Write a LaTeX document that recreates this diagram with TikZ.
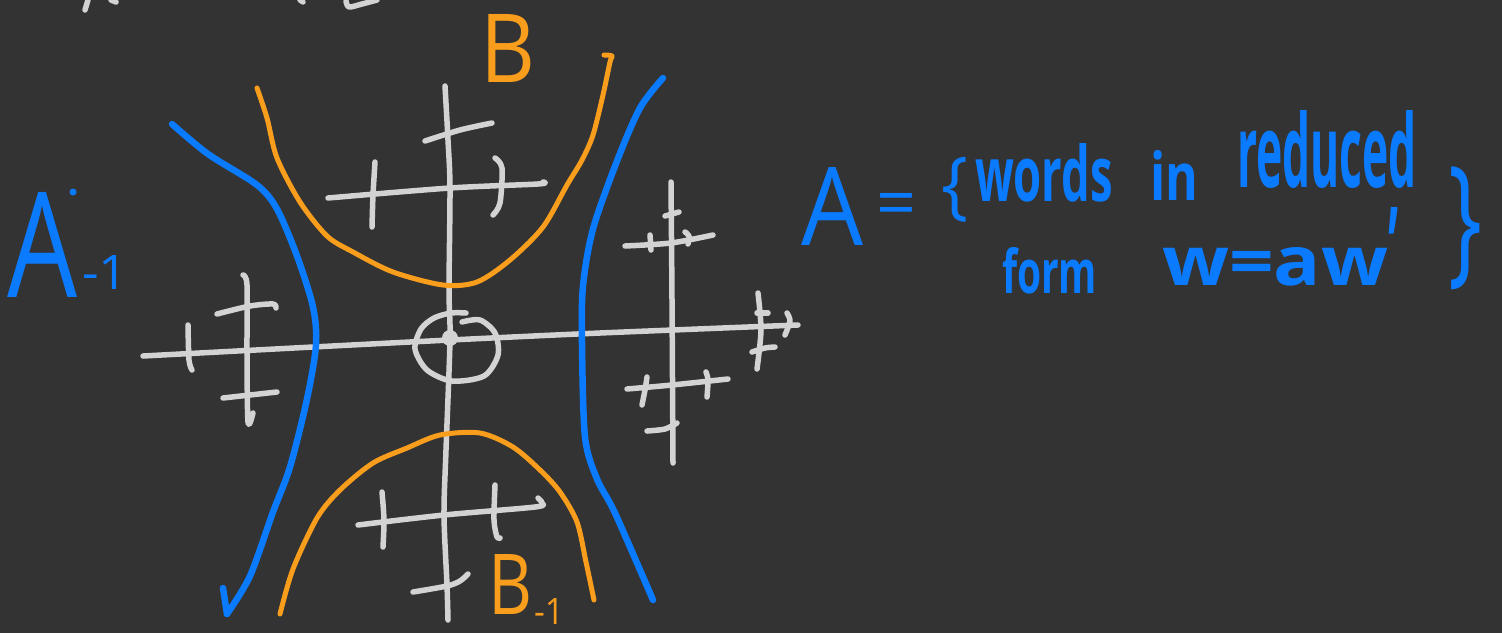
\documentclass[tikz,border=0pt]{standalone}
\usepackage{graphicx}
\usepackage{fontspec}
\setmainfont{Open Sans}
\definecolor{bg}{HTML}{333333}
\definecolor{chalk}{HTML}{D3D3D3}
\definecolor{pblue}{HTML}{0A7AFF}
\definecolor{porange}{HTML}{F99D1C}
\begin{document}
\begin{tikzpicture}[x=1pt,y=-1pt,line cap=round,line join=round,
  chalkline/.style={draw=chalk,line width=5.5pt},
  blueline/.style={draw=pblue,line width=6.5pt},
  orangeline/.style={draw=porange,line width=5pt},
  bluetext/.style={text=pblue,inner sep=0pt,outer sep=0pt},
  bluewords/.style={bluetext,font=\bfseries},
  orangetext/.style={text=porange,inner sep=0pt,outer sep=0pt}]
\fill[bg] (0,0) rectangle (1502,633);
\useasboundingbox (0,0) rectangle (1502,633);

% cut-off fragments at the top edge
\draw[chalkline] (88,0) -- (85,10);
\draw[chalkline] (111,0) -- (116,2);
\draw[chalkline] (300,0) -- (303,2);
\draw[chalkline] plot[smooth] coordinates {(346,1) (349,7) (362,4) (377,0)};

% main axes
\draw[chalkline] plot[smooth] coordinates {(143,356) (313,347) (450,340) (600,333) (798,325)};
\draw[chalkline] plot[smooth] coordinates {(445,86) (448,140) (450,188) (449,290) (450,340) (446,450) (444,515) (447,585) (448,620)};

% top cross
\draw[chalkline] plot[smooth] coordinates {(328,198) (450,188) (538,184) (543,182)};
\draw[chalkline] plot[smooth] coordinates {(425,141) (460,130) (492,123)};
\draw[chalkline] plot[smooth] coordinates {(375,162) (373,195) (372,227)};
\draw[chalkline] plot[smooth] coordinates {(495,158) (502,168) (500,203) (493,215)};

% bottom cross
\draw[chalkline] plot[smooth] coordinates {(358,525) (444,515) (535,507) (542,503) (538,498)};
\draw[chalkline] plot[smooth] coordinates {(382,492) (384,520) (383,547)};
\draw[chalkline] plot[smooth] coordinates {(495,485) (494,520) (497,537) (500,538)};
\draw[chalkline] plot[smooth] coordinates {(413,592) (447,586) (460,581) (468,574)};

% left cross
\draw[chalkline] plot[smooth] coordinates {(243,275) (247,285) (247,350) (248,422) (253,413)};
\draw[chalkline] plot[smooth] coordinates {(217,314) (250,306) (273,304) (276,308)};
\draw[chalkline] plot[smooth] coordinates {(223,398) (250,395) (277,392)};
\draw[chalkline] plot[smooth] coordinates {(188,325) (189,360) (192,370)};

% right cross
\draw[chalkline] plot[smooth] coordinates {(671,182) (672,300) (673,463)};
\draw[chalkline] plot[smooth] coordinates {(625,246) (671,243) (713,235)};
\draw[chalkline] (650,235) -- (651,250);
\draw[chalkline] plot[smooth] coordinates {(685,232) (689,236) (688,244)};
\draw[chalkline] (665,216) -- (679,212);
\draw[chalkline] plot[smooth] coordinates {(627,389) (672,385) (728,379)};
\draw[chalkline] plot[smooth] coordinates {(647,377) (645,390) (642,405)};
\draw[chalkline] plot[smooth] coordinates {(706,372) (708,380) (707,397)};
\draw[chalkline] plot[smooth] coordinates {(647,431) (665,429) (677,423)};
\draw[chalkline] plot[smooth] coordinates {(758,293) (761,330) (757,369)};
\draw[chalkline] (757,313) -- (768,313);
\draw[chalkline] plot[smooth] coordinates {(752,352) (765,348) (775,347)};
\draw[chalkline] plot[smooth] coordinates {(787,313) (790,321) (785,335)};

% identity
\draw[chalkline] plot[smooth] coordinates {(462,322) (480,320) (495,333) (498,355) (484,376) (452,381) (427,370) (415,349) (421,329) (434,318) (451,313) (466,313)};
\fill[chalk] (450,338) circle (8);

% blue curves
\draw[blueline] plot[smooth] coordinates {(172,124) (208,154) (257,185) (277,209) (297,256) (313,307) (316,345) (307,399) (290,467) (273,512) (250,576) (227,614)};
\draw[blueline] (223,588) -- (227,614);
\draw[blueline] plot[smooth] coordinates {(663,78) (640,108) (617,161) (593,229) (583,286) (582,343) (585,437) (597,479) (615,513) (653,600)};

% orange curves
\draw[orangeline] plot[smooth] coordinates {(257,88) (267,118) (277,158) (300,202) (327,236) (353,252) (393,272) (443,285) (477,282) (510,260) (543,227) (567,185) (582,160) (593,135) (603,95) (610,62) (612,56) (604,55)};
\draw[orangeline] plot[smooth] coordinates {(280,614) (293,569) (317,518) (340,490) (373,463) (407,448) (440,435) (480,433) (513,447) (540,470) (560,492) (577,522) (586,562) (594,600)};

% labels
\node[orangetext,anchor=base west] (Blab) at (480,82) {\resizebox{55pt}{68pt}{B}};
\node[orangetext,anchor=base west] (Bmlab) at (488,614) {\resizebox{44pt}{60pt}{B}};
\node[orangetext,anchor=base west] (Bmsub) at (534,624) {\resizebox{30pt}{26pt}{-1}};

\node[bluetext,anchor=base west] (Amlab) at (7,297) {\resizebox{70pt}{105pt}{A}};
\node[bluetext,anchor=base west] (Amsub) at (82,289) {\resizebox{46pt}{34pt}{-1}};
\fill[pblue] (73,192) circle (3.5);

\node[bluetext,anchor=base west] (Abig) at (801,245) {\resizebox{62pt}{78pt}{A}};
\node[bluetext,anchor=base west] (eq) at (876,227) {\fontsize{70}{70}\selectfont =};
\node[bluetext,anchor=north west] (lbr) at (941,157) {\resizebox*{27pt}{65pt}{\{}};
\node[bluewords,anchor=base west] (w1) at (975,201) {\resizebox{138pt}{58pt}{words}};
\node[bluewords,anchor=base west] (w2) at (1150,200) {\resizebox{48pt}{50pt}{in}};
\node[bluewords,anchor=base west] (w3) at (1237,187) {\resizebox{180pt}{77pt}{reduced}};
\node[bluewords,anchor=base west] (w4) at (1002,293) {\resizebox{95pt}{46pt}{form}};
\node[bluewords,anchor=base west] (w5) at (1162,285) {\resizebox{226pt}{38pt}{w=aw}\resizebox{10pt}{78pt}{'}};
\node[bluetext,anchor=north west] (rbr) at (1448,167) {\resizebox*{34pt}{123pt}{\}}};
\end{tikzpicture}
\end{document}
